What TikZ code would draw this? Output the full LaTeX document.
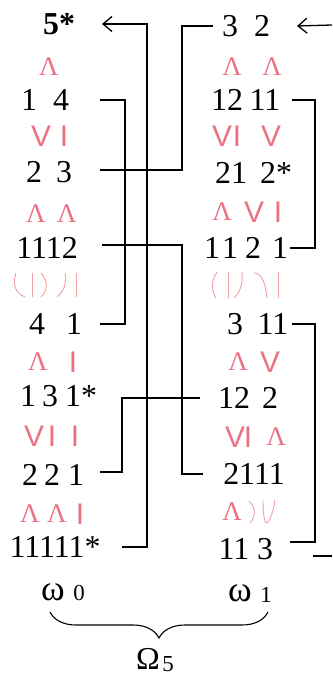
\documentclass[tikz,border=0pt]{standalone}
\usepackage{fontspec}
\setmainfont{Liberation Serif}
\newfontfamily\symsans{Liberation Sans}
\usetikzlibrary{arrows.meta,decorations.pathreplacing}
\definecolor{relpink}{RGB}{236,112,130}
\definecolor{curvpink}{RGB}{240,160,165}
\tikzset{
  num/.style={inner sep=0pt, font=\fontsize{32}{32}\selectfont},
  omg/.style={inner sep=0pt, font=\fontsize{36}{36}\selectfont},
  small/.style={inner sep=0pt, font=\fontsize{23}{23}\selectfont},
  rel/.style={inner sep=0pt, text=relpink, font=\symsans\fontsize{30}{30}\selectfont},
  lam/.style={inner sep=0pt, text=relpink, font=\fontsize{27}{27}\selectfont},
  curv/.style={draw=curvpink, line width=0.9bp},
  link/.style={draw=black, line width=1.3bp},
  arr/.style={link, -{Straight Barb[length=9bp,width=15bp]}},
}
\begin{document}
\begin{tikzpicture}[x=1bp,y=-1bp]
\useasboundingbox (0,0) rectangle (332,675);
% ---------- column x positions of the connectors
\coordinate (x100) at (100,0);
\coordinate (x102) at (102,0);
\coordinate (x122) at (122,0);
\coordinate (x125) at (125,0);
\coordinate (x147) at (147,0);
\coordinate (x182) at (182,0);
\coordinate (x200) at (200,0);
\coordinate (x203) at (203,0);
\coordinate (x213) at (213,0);
\coordinate (x290) at (290,0);
\coordinate (x292) at (292,0);
\coordinate (x297) at (297,0);
\coordinate (x315) at (315,0);
% ---------- left column (omega_0)
\node[num, font=\fontsize{32}{32}\selectfont\bfseries] (a5) at (59,24) {5*};
\node[lam] (la1) at (49,67) {Λ};
\node[num] (a14a) at (29,100) {1};
\node[num] (a14b) at (61,100) {4};
\node[rel] (lv2) at (41,136) {V};
\node[rel] (li2) at (64,136) {I};
\node[num] (a23a) at (34,172) {2};
\node[num] (a23b) at (64,172) {3};
\node[lam] (la3) at (36,214) {Λ};
\node[lam] (la4) at (67,214) {Λ};
\node[num] (a1112) at (47,248) {1112};
\draw[curv] (16,273) .. controls (12,286) and (16,293) .. (25,297);
\draw[curv] (32,273) -- (32,297);
\draw[curv] (41,273) .. controls (48,281) and (48,290) .. (41,297);
\draw[curv] (65,273) .. controls (67,285) and (63,292) .. (57,297);
\draw[curv] (76,273) -- (76,297);
\node[num] (a41a) at (37,324) {4};
\node[num] (a41b) at (74,324) {1};
\node[lam] (la5) at (38,362) {Λ};
\node[rel] (li5) at (73,362) {I};
\node[num] (a131a) at (28,396) {1};
\node[num] (a131b) at (50,396) {3};
\node[num] (a131c) at (81,396) {1*};
\node[rel] (lv6) at (34,436) {V};
\node[rel] (li6) at (52,436) {I};
\node[rel] (li7) at (75,436) {I};
\node[num] (a221a) at (30,475) {2};
\node[num] (a221b) at (52,475) {2};
\node[num] (a221c) at (76,475) {1};
\node[lam] (la8) at (30,514) {Λ};
\node[lam] (la9) at (57,514) {Λ};
\node[rel] (li8) at (80,514) {I};
\node[num] (a11111) at (55,547) {11111*};
\node[omg] (w0) at (53,592) {ω};
\node[small] (w0i) at (79,593) {0};
% ---------- right column (omega_1)
\node[num] (b32a) at (230,26) {3};
\node[num] (b32b) at (262,26) {2};
\node[lam] (lb1) at (232,67) {Λ};
\node[lam] (lb2) at (272,67) {Λ};
\node[num] (b1211a) at (227,100) {12};
\node[num] (b1211b) at (265,100) {11};
\node[rel] (rv1) at (222,136) {V};
\node[rel] (ri1) at (237,136) {I};
\node[rel] (rv2) at (271,136) {V};
\node[num] (b212a) at (231,173) {21};
\node[num] (b212b) at (276,173) {2*};
\node[lam] (lb3) at (222,212) {Λ};
\node[rel] (rv3) at (254,212) {V};
\node[rel] (ri3) at (278,212) {I};
\node[num] (b1121a) at (212,248) {1};
\node[num] (b1121b) at (230,248) {1};
\node[num] (b1121c) at (253,248) {2};
\node[num] (b1121d) at (280,248) {1};
\draw[curv] (217,272) .. controls (211,281) and (211,290) .. (216,298);
\draw[curv] (228,272) -- (228,298);
\draw[curv] (242,272) .. controls (243,285) and (240,292) .. (234,298);
\draw[curv] (254,273) .. controls (262,273) and (266,285) .. (267,298);
\draw[curv] (278,272) -- (278,298);
\node[num] (b311a) at (235,324) {3};
\node[num] (b311b) at (273,324) {11};
\node[lam] (lb4) at (238,362) {Λ};
\node[rel] (rv4) at (270,362) {V};
\node[num] (b122a) at (234,398) {12};
\node[num] (b122b) at (270,398) {2};
\node[rel] (rv5) at (235,437) {V};
\node[rel] (ri5) at (248,437) {I};
\node[lam] (lb5) at (276,437) {Λ};
\node[num] (b2111) at (254,474) {2111};
\node[lam] (lb6) at (232,512) {Λ};
\draw[curv] (249,501) .. controls (256,508) and (256,516) .. (250,523);
\draw[curv] (263,500) .. controls (263,518) and (265,523) .. (267,523) .. controls (270,520) and (274,510) .. (275,500);
\node[num] (b113a) at (234,549) {11};
\node[num] (b113b) at (265,549) {3};
\node[omg] (w1) at (240,593) {ω};
\node[small] (w1i) at (266,595) {1};
% ---------- brace and Omega_5
\draw[link, line width=1.1bp, decorate, decoration={brace, mirror, amplitude=26bp}] (50,612) -- (268,612);
\node[num] (om) at (148,659) {Ω};
\node[small] (om5) at (168,664) {5};
% ---------- connectors
\coordinate (offR1) at (332,25);
\coordinate (stubA) at (313,556);
\coordinate (offR2) at (332,556);
\draw[arr] (a11111.east -| x122) -- (a11111.east -| x147) |- (a5.east -| x102);
\draw[link] (a14b.east -| x100) -- (a14b.east -| x125) |- (a41b.east -| x100);
\draw[link] ([yshift=2bp]a23b.east -| x100) -- ([yshift=2bp]a23b.east -| x182) |- (b32a.west -| x213);
\draw[link] ([yshift=3bp]a1112.east -| x102) -- ([yshift=3bp]a1112.east -| x182) |- (b2111.west -| x203);
\draw[link] ([yshift=3bp]a221c.east -| x100) -- ([yshift=3bp]a221c.east -| x122) |- (b122a.west -| x200);
\draw[link] (b1211b.east -| x292) -- (b1211b.east -| x315) |- (b1121d.east -| x290);
\draw[link] (b311b.east -| x292) -- (b311b.east -| x315) |- ([yshift=7bp]b113b.east -| x290);
\draw[link] (stubA) -- (offR2);
\draw[arr] (offR1) -- (b32b.east -| x297);
\end{tikzpicture}
\end{document}
